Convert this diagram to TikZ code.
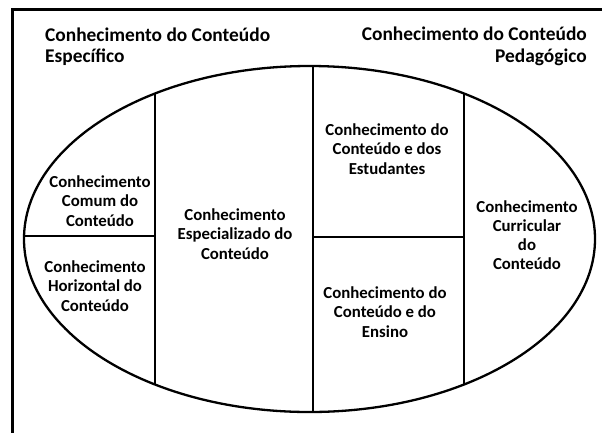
\documentclass[tikz,border=0pt]{standalone}
\usepackage{fontspec}
\setmainfont{Carlito}
\begin{document}
\begin{tikzpicture}[x=1pt,y=-1pt,
  lbl/.style={font=\bfseries\fontsize{16.8}{19.2}\selectfont, align=center, inner sep=0pt},
  ttl/.style={font=\bfseries\fontsize{19.4}{21.5}\selectfont, inner sep=0pt},
  rule/.style={line width=2.6pt},
  frm/.style={line width=3pt}]
\useasboundingbox (0,0) rectangle (602,432);
% frame
\draw[frm] (12,440) -- (12,9) -- (610,9);
% ellipse and partitions
\coordinate (c) at (309.5,239);
\begin{scope}
  \clip (c) ellipse [x radius=285.5, y radius=173];
  \draw[rule] (155,0) -- (155,432);
  \draw[rule] (313,0) -- (313,432);
  \draw[rule] (464,0) -- (464,432);
  \draw[rule] (0,236) -- (155,236);
  \draw[rule] (313,237) -- (464,237);
\end{scope}
\draw[line width=2.3pt] (c) ellipse [x radius=285.5, y radius=173];
% titles
\node[ttl, align=left, anchor=west] (tl) at (45,46.5) {Conhecimento do Conteúdo\\Específico};
\node[ttl, align=right, anchor=east] (tr) at (587,46.5) {Conhecimento do Conteúdo\\Pedagógico};
% cell labels
\node[lbl] (ccc) at (100,201) {Conhecimento\\Comum do\\Conteúdo};
\node[lbl] (chc) at (95,286) {Conhecimento\\Horizontal do\\Conteúdo};
\node[lbl] (cec) at (235,234) {Conhecimento\\Especializado do\\Conteúdo};
\node[lbl] (cce) at (387,149) {Conhecimento do\\Conteúdo e dos\\Estudantes};
\node[lbl] (cen) at (385,312) {Conhecimento do\\Conteúdo e do\\Ensino};
\node[lbl] (ccu) at (527,235) {Conhecimento\\Curricular\\do\\Conteúdo};
\end{tikzpicture}
\end{document}
